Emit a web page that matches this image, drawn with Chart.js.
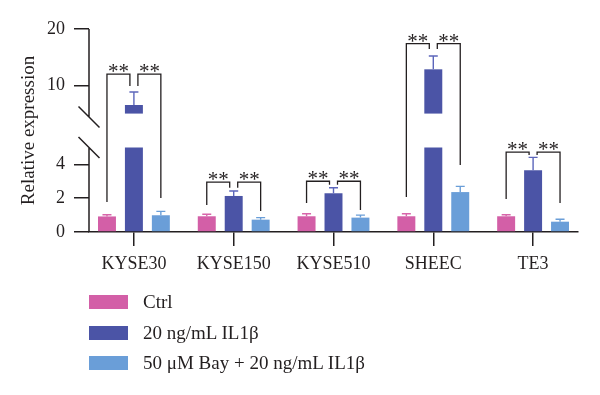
<!DOCTYPE html>
<html>
<head>
<meta charset="utf-8">
<script src="https://cdn.jsdelivr.net/npm/chart.js@4/dist/chart.umd.min.js"></script>
<style>
    body { margin: 0; background: #fff; }
    #wrap { position: relative; width: 600px; height: 395px; }
    #legend { position: absolute; left: 89px; top: 287px; font-family: "Liberation Serif", serif; font-size: 19px; color: #231f20; }
    .item { display: flex; align-items: center; height: 30.5px; }
    .box { width: 39px; height: 14px; margin-right: 15px; }
</style>
</head>
<body>
<div id="wrap">
    <canvas id="chart" width="600" height="395"></canvas>
    <div id="legend"></div>
</div>
<script>
const categories = ["KYSE30", "KYSE150", "KYSE510", "SHEEC", "TE3"];
const seriesNames = ["Ctrl", "20 ng/mL IL1β", "50 μM Bay + 20 ng/mL IL1β"];
const seriesColors = ["#d35fa7", "#4b54a6", "#6a9ed8"];
const errorColors = ["#d865aa", "#5c66bb", "#6a9ed8"];

const ctrlValues = [0.92, 0.93, 0.93, 0.93, 0.93];
const ctrlErrors = [0.10, 0.12, 0.15, 0.15, 0.09];
const il1bValues = [6.52, 2.13, 2.29, 12.85, 3.65];
const il1bErrors = [2.30, 0.29, 0.33, 2.35, 0.76];
const bayValues = [0.99, 0.73, 0.85, 2.36, 0.61];
const bayErrors = [0.23, 0.12, 0.15, 0.34, 0.14];

const yTickValues = [0, 2, 4, 10, 20];
const yTickLabels = ["0", "2", "4", "10", "20"];

// significance brackets (** between Ctrl/IL1b and IL1b/Bay)
const sigTop = [12.0, 2.95, 3.0, 17.4, 4.72];
const sigInner = [9.9, 2.62, 2.8, 16.45, 4.55];
const sigLeftEnd = [1.77, 1.6, 1.71, 2.07, 1.95];
const sigRightEnd = [2.01, 1.24, 1.3, 3.96, 1.71];

// broken axis: 0-5 linear, gap, 5-20 compressed 3x
const breakAt = 5;
const gapUnits = 2;
function toAxis(v) {
    if (v <= breakAt) return v;
    return breakAt + gapUnits + (v - breakAt) / 3;
}

const allValues = [ctrlValues, il1bValues, bayValues];
const allErrors = [ctrlErrors, il1bErrors, bayErrors];
const stackKeys = ["ctrl", "il1b", "bay"];

const datasets = [];
allValues.forEach((vals, s) => {
    datasets.push({
        label: seriesNames[s],
        stack: stackKeys[s],
        backgroundColor: seriesColors[s],
        data: vals.map((v, i) => ({ x: i, y: Math.min(v, breakAt) }))
    });
    datasets.push({
        label: seriesNames[s] + " (upper)",
        stack: stackKeys[s],
        backgroundColor: seriesColors[s],
        data: vals.map((v, i) => ({ x: i, y: v > breakAt ? [breakAt + gapUnits, toAxis(v)] : null }))
    });
});

const ink = "#231f20";
const serif = "'Liberation Serif', serif";

const extras = {
    id: "extras",
    afterDatasetsDraw(chart) {
        const ctx = chart.ctx;
        const y = chart.scales.y;
        const area = chart.chartArea;
        const px = v => y.getPixelForValue(toAxis(v));
        const barX = (s, i) => chart.getDatasetMeta(s * 2).data[i].x;

        ctx.save();
        // error bars
        allValues.forEach((vals, s) => {
            ctx.strokeStyle = errorColors[s];
            ctx.lineWidth = 1.4;
            vals.forEach((v, i) => {
                const x = barX(s, i);
                const y0 = px(v);
                const y1 = px(v + allErrors[s][i]);
                ctx.beginPath();
                ctx.moveTo(x, y0);
                ctx.lineTo(x, y1);
                ctx.moveTo(x - 4.5, y1);
                ctx.lineTo(x + 4.5, y1);
                ctx.stroke();
            });
        });

        // brackets and stars
        ctx.strokeStyle = ink;
        ctx.lineWidth = 1.3;
        ctx.fillStyle = ink;
        ctx.font = "21px " + serif;
        ctx.textAlign = "center";
        ctx.textBaseline = "alphabetic";
        categories.forEach((c, i) => {
            const xc = barX(0, i), xi = barX(1, i), xb = barX(2, i);
            const top = px(sigTop[i]);
            ctx.beginPath();
            ctx.moveTo(xc, px(sigLeftEnd[i]));
            ctx.lineTo(xc, top);
            ctx.lineTo(xi - 4, top);
            ctx.lineTo(xi - 4, px(sigInner[i]));
            ctx.moveTo(xi + 4, px(sigInner[i]));
            ctx.lineTo(xi + 4, top);
            ctx.lineTo(xb, top);
            ctx.lineTo(xb, px(sigRightEnd[i]));
            ctx.stroke();
            ctx.fillText("**", (xc + xi - 4) / 2, top + 4);
            ctx.fillText("**", (xi + 4 + xb) / 2, top + 4);
        });

        // y axis line with break marks
        const ax = area.left;
        const upperEnd = y.getPixelForValue(breakAt + gapUnits - 0.2);
        const lowerStart = y.getPixelForValue(breakAt);
        ctx.lineWidth = 1.5;
        ctx.beginPath();
        ctx.moveTo(ax, area.top);
        ctx.lineTo(ax, upperEnd);
        ctx.moveTo(ax, lowerStart);
        ctx.lineTo(ax, area.bottom);
        [upperEnd, lowerStart].forEach(cy => {
            ctx.moveTo(ax - 10.5, cy - 10.5);
            ctx.lineTo(ax + 10.5, cy + 10.5);
        });
        ctx.stroke();
        ctx.restore();
    }
};

new Chart(document.getElementById("chart"), {
    type: "bar",
    data: { datasets: datasets },
    options: {
        responsive: false,
        animation: false,
        categoryPercentage: 0.81,
        barPercentage: 0.667,
        layout: { padding: { top: 29, right: 22, bottom: 123, left: 0 } },
        plugins: { legend: { display: false }, tooltip: { enabled: false } },
        scales: {
            x: {
                type: "linear",
                offset: false,
                min: -0.45,
                max: 4.45,
                afterBuildTicks: scale => { scale.ticks = categories.map((c, i) => ({ value: i })); },
                afterFit: scale => { scale.height = 40; },
                ticks: {
                    autoSkip: false,
                    maxRotation: 0,
                    includeBounds: false,
                    padding: 7,
                    color: ink,
                    font: { family: serif, size: 18 },
                    callback: v => categories[v]
                },
                grid: { offset: false, drawOnChartArea: false, drawTicks: true, tickLength: 14, color: ink, lineWidth: 1.5 },
                border: { display: true, color: ink, width: 1.5 }
            },
            y: {
                stacked: false,
                min: 0,
                max: toAxis(20),
                afterBuildTicks: scale => { scale.ticks = yTickValues.map(v => ({ value: toAxis(v) })); },
                afterFit: scale => { scale.width = 89; },
                ticks: {
                    padding: 9,
                    color: ink,
                    font: { family: serif, size: 18 },
                    callback: (v, idx) => yTickLabels[idx]
                },
                grid: { drawOnChartArea: false, drawTicks: true, tickLength: 15, color: ink, lineWidth: 1.5 },
                border: { display: false },
                title: {
                    display: true,
                    text: "Relative expression",
                    color: ink,
                    font: { family: serif, size: 19 },
                    padding: { top: 18, bottom: 0 }
                }
            }
        }
    },
    plugins: [extras]
});

const legend = document.getElementById("legend");
seriesNames.forEach((name, s) => {
    const row = document.createElement("div");
    row.className = "item";
    const box = document.createElement("span");
    box.className = "box";
    box.style.background = seriesColors[s];
    const txt = document.createElement("span");
    txt.textContent = name;
    row.appendChild(box);
    row.appendChild(txt);
    legend.appendChild(row);
});
</script>
</body>
</html>
